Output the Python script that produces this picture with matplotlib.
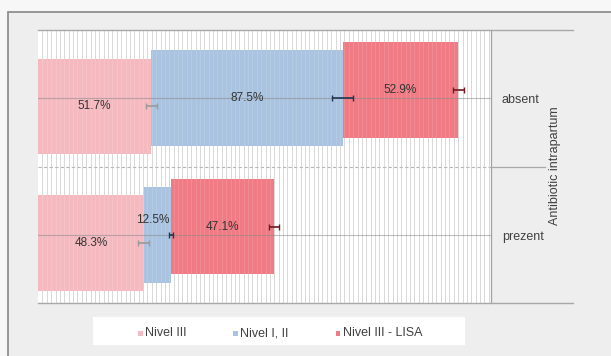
import numpy as np
import matplotlib
matplotlib.use("Agg")
import matplotlib.pyplot as plt
from matplotlib.patches import Rectangle
from matplotlib.lines import Line2D

# Data
categories = ["absent", "prezent"]
series = ["Nivel III", "Nivel I, II", "Nivel III - LISA"]
values = {
    "Nivel III": [51.7, 48.3],
    "Nivel I, II": [87.5, 12.5],
    "Nivel III - LISA": [52.9, 47.1],
}
errors = {
    "Nivel III": [2.5, 2.5],
    "Nivel I, II": [4.8, 0.8],
    "Nivel III - LISA": [2.5, 2.3],
}
axis_title = "Antibiotic intrapartum"

colors = {"Nivel III": "#f5b9c0", "Nivel I, II": "#a9c3e0", "Nivel III - LISA": "#f07b84"}
err_colors = {"Nivel III": "#9a9a9a", "Nivel I, II": "#1f3550", "Nivel III - LISA": "#6e1a22"}
offsets = {"Nivel III": 0.06, "Nivel I, II": 0.0, "Nivel III - LISA": -0.06}

W, H = 611, 356
fig = plt.figure(figsize=(W / 100, H / 100), dpi=100)
fig.patch.set_facecolor("#f7f7f7")
plt.rcParams["font.family"] = ["Liberation Sans", "DejaVu Sans"]

def fx(px):
    return px / W

def fy(py):
    return 1 - py / H

# outer panel
fig.add_artist(Rectangle((fx(8), fy(400)), fx(700), fy(12) - fy(400),
                         transform=fig.transFigure, facecolor="#eeeeee",
                         edgecolor="#8f8f8f", lw=1.3, zorder=0))

left, right, top, bottom = 38, 491, 30, 303
ax = fig.add_axes([fx(left), fy(bottom), fx(right - left), fy(top) - fy(bottom)])
ax.set_facecolor("white")
xmax = 207
ax.set_xlim(0, xmax)
ax.set_ylim(1.5, -0.5)

# dense vertical gridlines (faintly visible through the bars as well)
for gx in np.arange(2, xmax, 2):
    ax.axvline(gx, color="#d4d4d4", lw=0.7, zorder=0.5)
    ax.axvline(gx, color="#ffffff", lw=0.7, alpha=0.12, zorder=2.2)

y = np.arange(len(categories))
cum = np.zeros(len(categories))
for s in series:
    v = np.array(values[s])
    yy = y + offsets[s]
    ax.barh(yy, v, left=cum, height=0.70, color=colors[s], zorder=2)
    ends = cum + v
    ax.errorbar(ends, yy, xerr=errors[s], fmt="none", ecolor=err_colors[s],
                elinewidth=1.2, capsize=2.5, capthick=1.0, zorder=4)
    for i, (c, val) in enumerate(zip(cum, v)):
        tx = c + val / 2
        ty = yy[i]
        if val < 20:
            tx -= 2
            ty -= 0.11
        ax.text(tx, ty, f"{val:.1f}%", ha="center", va="center",
                fontsize=8.5, color="#333333", zorder=5)
    cum = ends

# category centre lines
for yc in y:
    ax.axhline(yc, color="#8a8a8a", lw=0.8, alpha=0.55, zorder=3)

# separator between categories
ax.axhline(0.5, color="#b5b5b5", lw=0.8, ls=(0, (3, 2)), zorder=1)

for sp in ["top", "bottom", "left"]:
    ax.spines[sp].set_visible(False)
ax.spines["right"].set_color("#a0a0a0")
ax.spines["right"].set_linewidth(0.9)
ax.set_xticks([])
ax.set_yticks([])

# frame lines extending to the right label area
for py in (top, bottom):
    fig.add_artist(Line2D([fx(left), fx(573)], [fy(py), fy(py)],
                          transform=fig.transFigure, color="#a8a8a8", lw=1.0))
fig.add_artist(Line2D([fx(right), fx(545)], [fy(167), fy(167)],
                      transform=fig.transFigure, color="#a8a8a8", lw=0.9))

# category labels
cat_py = [100, 237]
for name, py in zip(categories, cat_py):
    fig.text(fx(502), fy(py), name, ha="left", va="center", fontsize=9, color="#404040")

fig.text(fx(555), fy(166), axis_title, rotation=90, ha="center", va="center",
         fontsize=9, color="#404040")

# legend
fig.add_artist(Rectangle((fx(93), fy(345)), fx(465 - 93), fy(317) - fy(345),
                         transform=fig.transFigure, facecolor="white",
                         edgecolor="none", zorder=1))
leg_x = [140, 235, 338]
for s, lx in zip(series, leg_x):
    fig.add_artist(Rectangle((fx(lx - 2.5), fy(333 + 2.5)), fx(5), fy(0) - fy(5),
                             transform=fig.transFigure, facecolor=colors[s],
                             edgecolor="none", zorder=2))
    fig.text(fx(lx + 5), fy(333), s, ha="left", va="center", fontsize=9,
             color="#404040", zorder=3)

fig.savefig("out.png", dpi=100, facecolor=fig.get_facecolor())
